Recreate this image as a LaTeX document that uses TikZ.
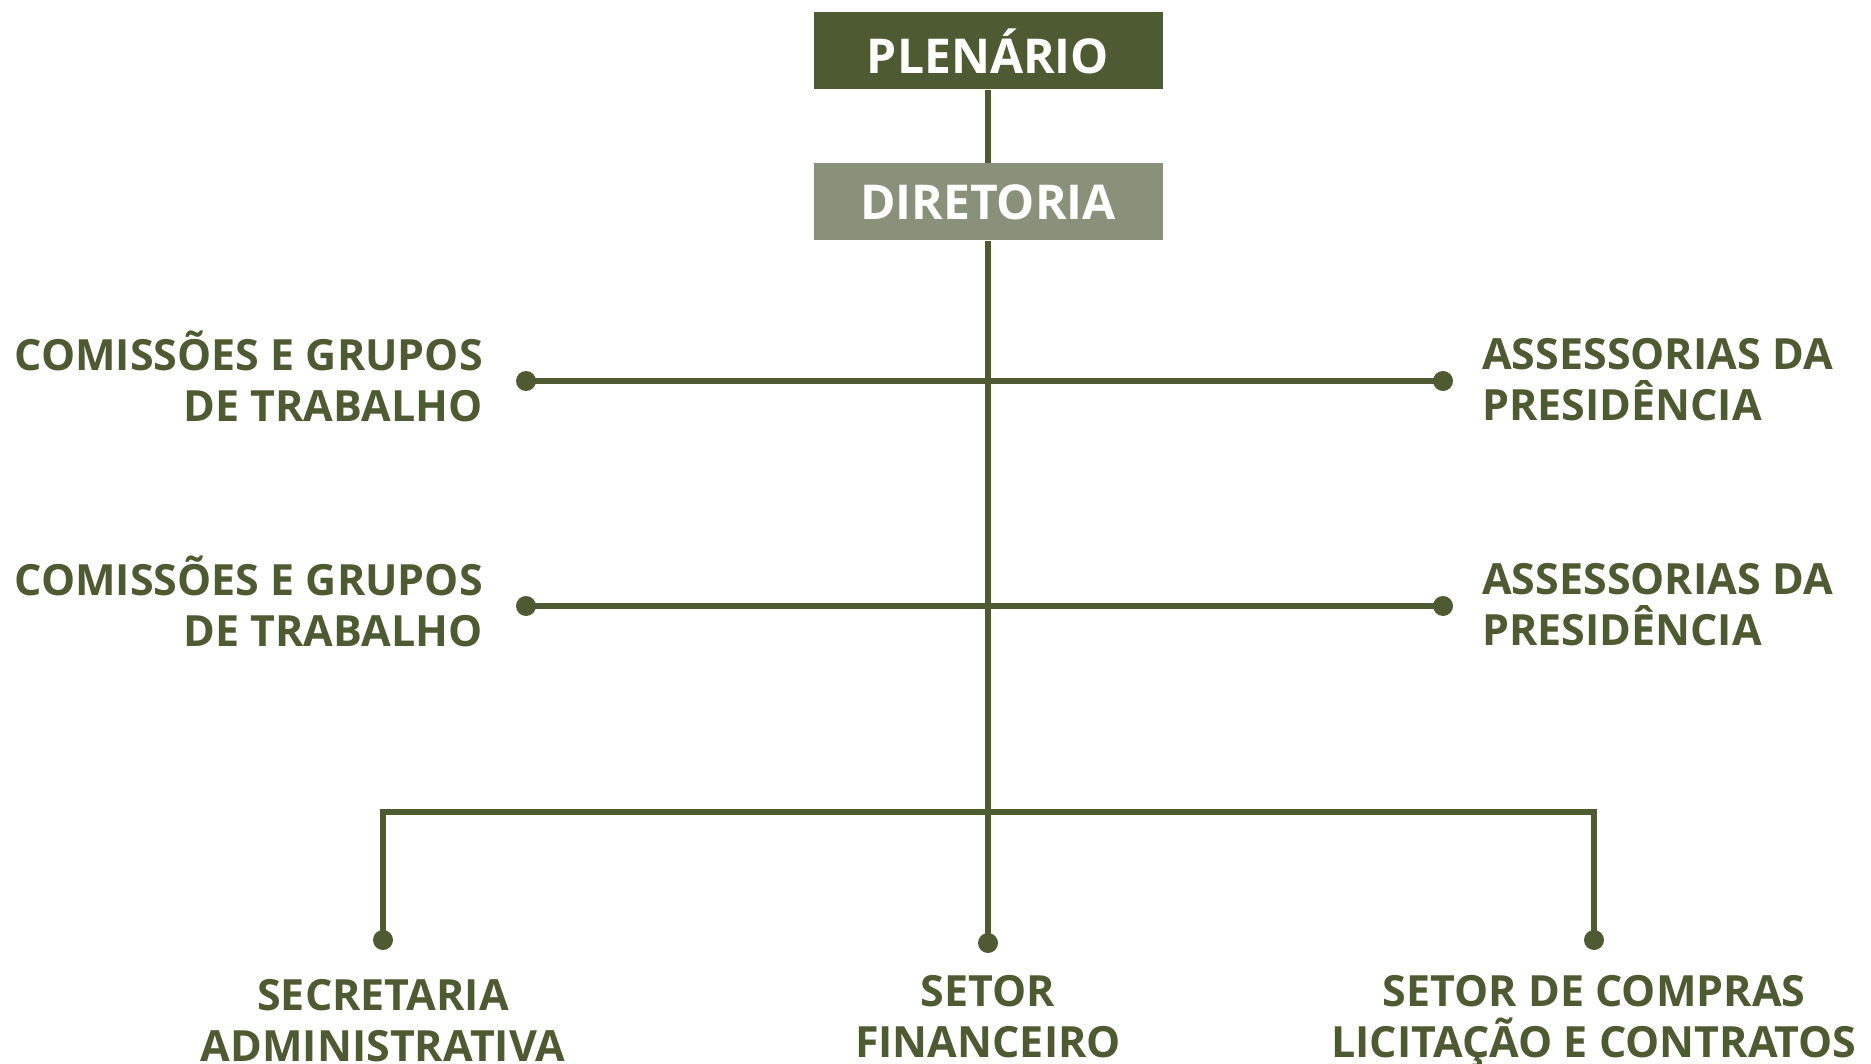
\documentclass[tikz,border=0pt]{standalone}
\usepackage{fontspec}
\setmainfont{Open Sans}
\definecolor{orgdark}{HTML}{4E5A32}
\definecolor{orglight}{HTML}{8A917A}
\begin{document}
\begin{tikzpicture}[x=1pt,y=-1pt,
    box/.style={minimum width=349pt, minimum height=77pt, inner sep=0, text=white,
        font=\fontsize{48}{56}\selectfont\bfseries},
    dot/.style={circle, fill=orgdark, inner sep=0, minimum size=20pt},
    lbl/.style={text=orgdark, inner sep=0, font=\fontsize{43}{51}\selectfont\bfseries},
    link/.style={draw=orgdark, line width=6pt}]
                \useasboundingbox (0,0) rectangle (1871,1064);

                \node[box, fill=orgdark] (plen) at (988,51) {PLENÁRIO};
                \node[box, fill=orglight] (dir) at (988,202) {DIRETORIA};

                \node[dot] (dl1) at (526,381) {};
                \node[dot] (dr1) at (1443,381) {};
                \node[dot] (dl2) at (526,606) {};
                \node[dot] (dr2) at (1443,606) {};
                \node[dot] (ds) at (383,940) {};
                \node[dot] (df) at (988,943) {};
                \node[dot] (dc) at (1594,940) {};
                \coordinate (jl) at (383,812);
                \coordinate (jr) at (1594,812);

                \node[lbl, anchor=east, align=right] (com1) at (483,376) {COMISSÕES E GRUPOS\\DE TRABALHO};
                \node[lbl, anchor=west, align=left] (ass1) at (1482,380) {ASSESSORIAS DA\\PRESIDÊNCIA};
                \node[lbl, anchor=east, align=right] (com2) at (483,601) {COMISSÕES E GRUPOS\\DE TRABALHO};
                \node[lbl, anchor=west, align=left] (ass2) at (1482,605) {ASSESSORIAS DA\\PRESIDÊNCIA};
                \node[lbl, anchor=north, align=center] (sec) at (383,979) {SECRETARIA\\ADMINISTRATIVA};
                \node[lbl, anchor=north, align=center] (fin) at (988,975) {SETOR\\FINANCEIRO};
                \node[lbl, anchor=north, align=center] (comp) at (1594,975) {SETOR DE COMPRAS\\LICITAÇÃO E CONTRATOS};

                \draw[link] (plen) -- (dir);
                \draw[link] (dir.south) -- (df.center);
                \draw[link] (dl1.center) -- (dr1.center);
                \draw[link] (dl2.center) -- (dr2.center);
                \draw[link] (ds.center) -- (jl) -- (jr) -- (dc.center);
\end{tikzpicture}
\end{document}
